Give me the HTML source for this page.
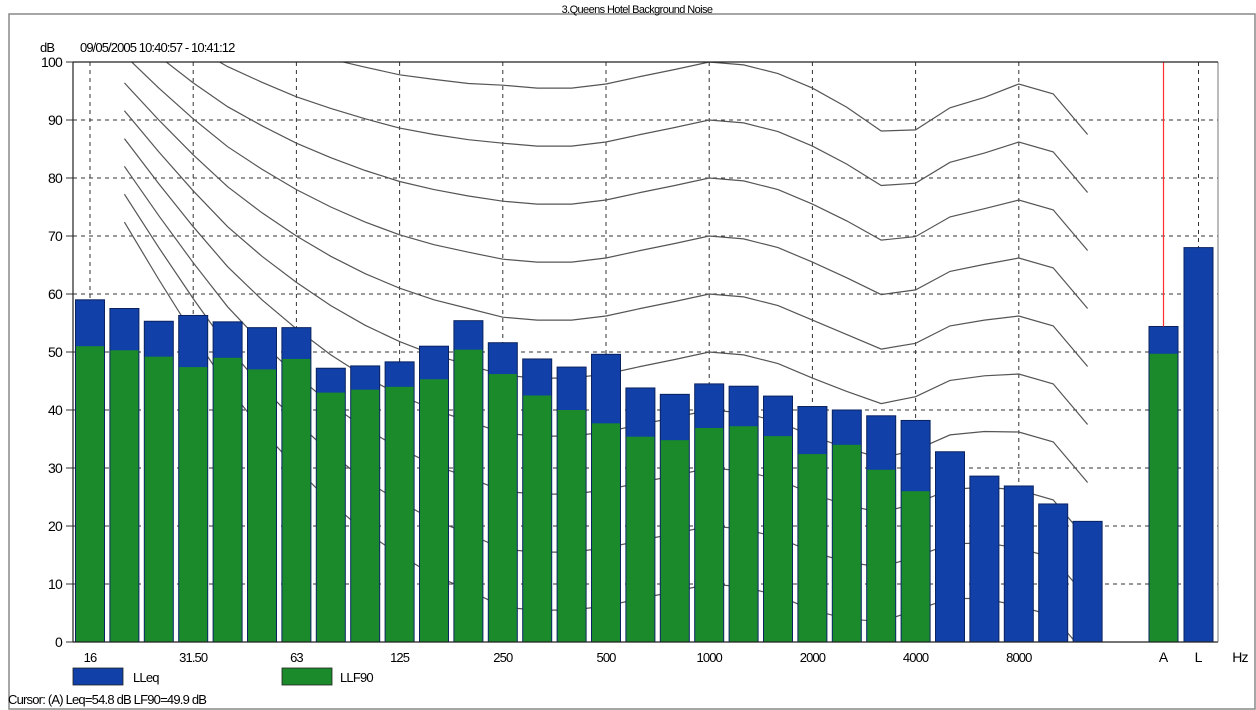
<!DOCTYPE html>
<html><head><meta charset="utf-8">
<style>
html,body{margin:0;padding:0;background:#fff;}
svg{display:block;font-family:"Liberation Sans",sans-serif;}
</style></head>
<body>
<svg id="chart" width="1256" height="710" viewBox="0 0 1256 710">
  <rect x="9" y="14" width="1246" height="695" fill="none" stroke="#888" stroke-width="1.5"/>
  <text x="637" y="13" text-anchor="middle" font-size="11" letter-spacing="-0.6">3.Queens Hotel Background Noise</text>
  <text x="40" y="52" font-size="13" letter-spacing="-0.8">dB</text>
  <text x="80" y="52" font-size="13" letter-spacing="-0.9">09/05/2005 10:40:57 - 10:41:12</text>
  <defs><clipPath id="plotclip"><rect x="73" y="62" width="1145" height="580"/></clipPath></defs>
  <g id="grid"></g>
  <g id="curves" clip-path="url(#plotclip)"></g>
  <g id="bars"></g>
  <g id="axes"></g>
  <rect x="73" y="668" width="50" height="17" fill="#1040a8" stroke="#222" stroke-width="0.8"/>
  <text x="133" y="682" font-size="13" letter-spacing="-0.8">LLeq</text>
  <rect x="282" y="668" width="50" height="17" fill="#1a8a2a" stroke="#222" stroke-width="0.8"/>
  <text x="340" y="682" font-size="13" letter-spacing="-0.8">LLF90</text>
  <text x="8" y="704" font-size="13" letter-spacing="-0.8">Cursor: (A)  Leq=54.8 dB  LF90=49.9 dB</text>
</svg>
<script>
const bands = ["16","20","25","31.5","40","50","63","80","100","125","160","200","250","315","400","500","630","800","1k","1.25k","1.6k","2k","2.5k","3.15k","4k","5k","6.3k","8k","10k","12.5k"];
const lleq = [59,57.5,55.3,56.3,55.2,54.2,54.2,47.2,47.6,48.3,51,55.4,51.6,48.8,47.4,49.6,43.8,42.7,44.5,44.1,42.4,40.6,40,39,38.2,32.8,28.6,26.9,23.8,20.8];
const llf90 = [51,50.3,49.2,47.4,49,47,48.8,43,43.5,44,45.3,50.4,46.2,42.5,40,37.7,35.4,34.8,36.9,37.2,35.5,32.4,34,29.7,26,null,null,null,null,null];
const totalLabels = ["A","L"];
const totalLeq = [54.4,68];
const totalL90 = [49.7,null];
const yTicks = [0,10,20,30,40,50,60,70,80,90,100];
const xTickLabels = ["16","31.50","63","125","250","500","1000","2000","4000","8000"];
const xTickBandIdx = [0,3,6,9,12,15,18,21,24,27];
const contourOffset = [36.4,30,24,18.5,14,10,6.5,3.5,1,-1,-2.5,-4,-4.5,-4.5,-3.8,-2.5,-1.3,0,-0.5,-2,-4.5,-7,-9.5,-8.5,-5.5,-4.5,-3.8,-5.5,-12.5];
const contourSlope = [0.52,0.45,0.38,0.31,0.25,0.2,0.15,0.11,0.08,0.05,0.03,0,0,0,0,0,0,0,0,0,0,0.02,0.06,0.08,0.06,0.04,0,0,0];
const phons = [10,20,30,40,50,60,70,80,90,100];

const NS="http://www.w3.org/2000/svg";
const X0=90, BAND=34.4, Y0=642, YTOP=62;
const xBand=i=>X0+i*BAND;
const xTotal=i=>1163.5+i*35;
const yv=v=>Y0-(v/100)*(Y0-YTOP);
function mk(tag,attrs,parent){const e=document.createElementNS(NS,tag);for(const k in attrs)e.setAttribute(k,attrs[k]);parent.appendChild(e);return e;}
const grid=document.getElementById('grid'),curves=document.getElementById('curves'),bars=document.getElementById('bars'),axes=document.getElementById('axes');

yTicks.forEach(t=>{
  const l=mk('line',{x1:73,x2:1218,y1:yv(t),y2:yv(t),stroke:'#333','stroke-width':1,'stroke-dasharray':'4,4'},grid);
  
  
  const tk=mk('line',{x1:66,x2:73,y1:yv(t),y2:yv(t),stroke:'#333'},axes);
  
  
  const tx=mk('text',{x:62,y:yv(t)+5,'text-anchor':'end','font-size':14,'letter-spacing':'-0.8'},axes);
  tx.textContent=t;
  
  
});
xTickBandIdx.forEach((bi,k)=>{
  const x=xBand(bi);
  const l=mk('line',{x1:x,x2:x,y1:YTOP,y2:Y0,stroke:'#333','stroke-width':1,'stroke-dasharray':'4,4'},grid);
  
  
  const tx=mk('text',{x:x,y:662,'text-anchor':'middle','font-size':13,'letter-spacing':'-0.9'},axes);
  tx.textContent=xTickLabels[k];
  
  
});
const gl=mk('line',{x1:xTotal(1),x2:xTotal(1),y1:YTOP,y2:Y0,stroke:'#333','stroke-dasharray':'4,4'},grid);



phons.forEach(p=>{
  const pts=contourOffset.map((o,i)=>{const v=p+o+contourSlope[i]*(60-p);return xBand(i+1).toFixed(1)+','+yv(v).toFixed(1);});
  const pl=mk('polyline',{points:pts.join(' '),fill:'none',stroke:'#555','stroke-width':1.2},curves);
  
  
});

const BW=29;
function drawBar(x,leq,l90,name){
  const b=mk('rect',{x:x-BW/2,y:yv(leq),width:BW,height:Y0-yv(leq),fill:'#1040a8',stroke:'#0a2260','stroke-width':1},bars);
  
  
  if(l90!=null){
    const g=mk('rect',{x:x-BW/2+0.5,y:yv(l90),width:BW-1,height:Y0-yv(l90),fill:'#1a8a2a'},bars);
    
    
  }
}
bands.forEach((b,i)=>drawBar(xBand(i),lleq[i],llf90[i],b));
totalLabels.forEach((b,i)=>{
  drawBar(xTotal(i),totalLeq[i],totalL90[i],b);
  const tx=mk('text',{x:xTotal(i),y:662,'text-anchor':'middle','font-size':14},axes);
  tx.textContent=b;
  
  
});
const hz=mk('text',{x:1240,y:662,'text-anchor':'middle','font-size':14,'letter-spacing':'-0.8'},axes);
hz.textContent='Hz';


const cl=mk('line',{x1:xTotal(0),x2:xTotal(0),y1:YTOP,y2:yv(totalLeq[0]),stroke:'#ff3030','stroke-width':1.2},bars);


const lf=mk('line',{x1:73,x2:73,y1:YTOP,y2:Y0,stroke:'#222','stroke-width':1.2},axes);


const bf=mk('line',{x1:73,x2:1218,y1:Y0,y2:Y0,stroke:'#222','stroke-width':1.2},axes);


const rf=mk('line',{x1:1218,x2:1218,y1:YTOP,y2:Y0,stroke:'#777','stroke-width':1},axes);


const tf=mk('line',{x1:73,x2:1218,y1:YTOP,y2:YTOP,stroke:'#222','stroke-width':1.2},axes);


</script>
</body></html>
